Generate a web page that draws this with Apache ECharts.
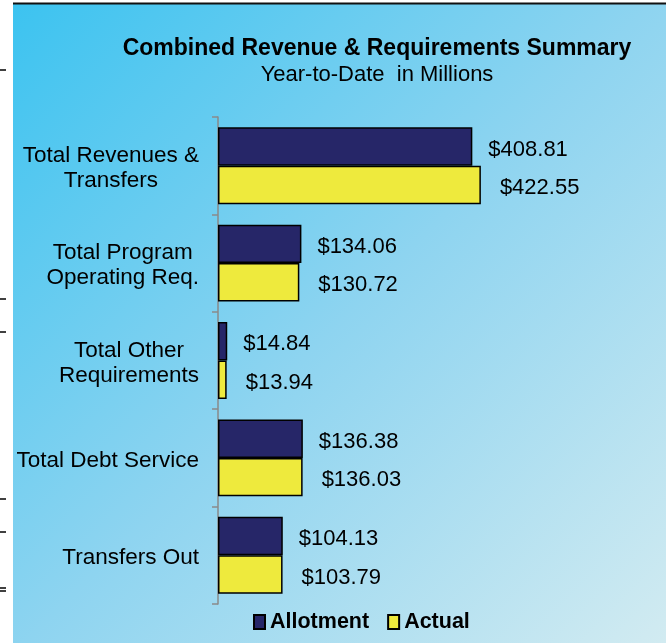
<!DOCTYPE html>
<html>
<head>
<meta charset="utf-8">
<script src="https://cdn.jsdelivr.net/npm/echarts@6/dist/echarts.min.js"></script>
<style>
html,body{margin:0;padding:0;background:#fff;}
#chart{width:666px;height:643px;}
</style>
</head>
<body>
<div id="chart"></div>
<script>
var categories = [
  'Total Revenues &\nTransfers',
  'Total Program\nOperating Req.',
  'Total Other\nRequirements',
  'Total Debt Service',
  'Transfers Out'
];
var allotment = [408.81, 134.06, 14.84, 136.38, 104.13];
var actual = [422.55, 130.72, 13.94, 136.03, 103.79];
var seriesNames = ['Allotment', 'Actual'];
var titleText = 'Combined Revenue & Requirements Summary';
var subtitleText = 'Year-to-Date  in Millions';

var FONT = '"Liberation Sans", Arial, sans-serif';
var chart = echarts.init(document.getElementById('chart'), null, {renderer: 'canvas'});

function money(p) { return '$' + p.value.toFixed(2); }

var sideTicks = [70, 299, 332, 499, 532, 588, 591];
var graphics = [
  {
    type: 'rect', z: -10, silent: true,
    shape: {x: 13, y: 4, width: 653, height: 639},
    style: {
      fill: new echarts.graphic.LinearGradient(0, 0, 1, 1, [
        {offset: 0, color: '#3cc3f0'},
        {offset: 0.5, color: '#8ed4f0'},
        {offset: 1, color: '#d2ebf1'}
      ])
    }
  },
  {
    type: 'line', z: -9, silent: true,
    shape: {x1: 13, y1: 3.5, x2: 666, y2: 3.5},
    style: {stroke: '#111', lineWidth: 2}
  }
];
sideTicks.forEach(function (y) {
  graphics.push({
    type: 'line', silent: true,
    shape: {x1: 0, y1: y, x2: 6, y2: y},
    style: {stroke: '#000', lineWidth: 1.5}
  });
});

var option = {
  backgroundColor: '#fff',
  animation: false,
  textStyle: {fontFamily: FONT},
  graphic: graphics,
  title: {
    text: titleText,
    subtext: subtitleText,
    left: 377,
    top: 35,
    textAlign: 'center',
    itemGap: 0,
    padding: 0,
    textStyle: {fontFamily: FONT, fontSize: 23, fontWeight: 'bold', color: '#000', lineHeight: 27},
    subtextStyle: {fontFamily: FONT, fontSize: 22, color: '#000', lineHeight: 25}
  },
  legend: {
    data: seriesNames,
    left: 253,
    top: 611,
    padding: 0,
    icon: 'rect',
    itemWidth: 11,
    itemHeight: 14,
    itemGap: 18,
    textStyle: {fontFamily: FONT, fontSize: 21.5, fontWeight: 'bold', color: '#000'}
  },
  grid: {left: 218, right: 15, top: 117, bottom: 39, containLabel: false},
  xAxis: {
    type: 'value',
    min: 0,
    max: 696,
    show: false
  },
  yAxis: {
    type: 'category',
    data: categories,
    inverse: true,
    axisLine: {show: true, lineStyle: {color: '#8a8a8a', width: 1.5}},
    axisTick: {show: true, length: 6, lineStyle: {color: '#8a8a8a', width: 1.5}},
    axisLabel: {
      margin: 19,
      color: '#000',
      fontFamily: FONT,
      fontSize: 22.5,
      formatter: function (v) {
        return v.split('\n').map(function (l) { return '{c|' + l + '}'; }).join('\n');
      },
      rich: {
        c: {align: 'center', fontFamily: FONT, fontSize: 22.5, lineHeight: 25, color: '#000', padding: [5, 0, 0, 0]}
      }
    },
    splitLine: {show: false}
  },
  series: [
    {
      name: seriesNames[0],
      type: 'bar',
      data: allotment,
      barGap: '0%',
      barCategoryGap: '21%',
      itemStyle: {color: '#262668', borderColor: '#000', borderWidth: 1.5},
      label: {
        show: true, position: 'right', distance: 16, offset: [0, 3],
        formatter: money, fontFamily: FONT, fontSize: 22, color: '#000'
      }
    },
    {
      name: seriesNames[1],
      type: 'bar',
      data: actual,
      barGap: '0%',
      barCategoryGap: '21%',
      itemStyle: {color: '#eeea3d', borderColor: '#000', borderWidth: 1.5},
      label: {
        show: true, position: 'right', distance: 19, offset: [0, 3],
        formatter: money, fontFamily: FONT, fontSize: 22, color: '#000'
      }
    }
  ]
};
chart.setOption(option);
</script>
</body>
</html>
